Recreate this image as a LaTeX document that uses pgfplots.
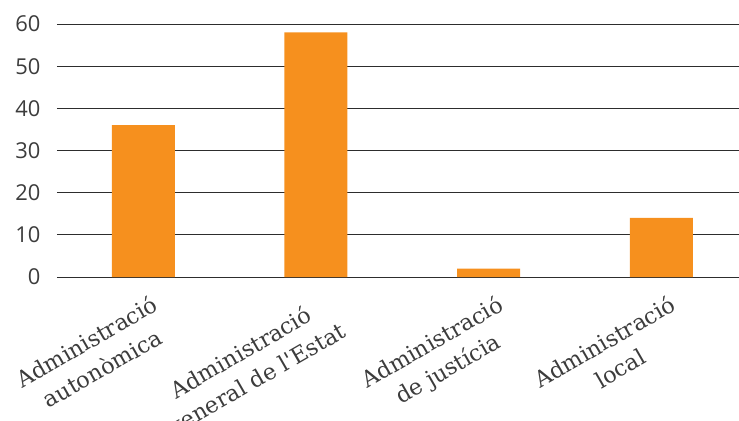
\documentclass[border=0pt]{standalone}
\usepackage{fontspec}
\setmainfont{DejaVu Serif}
\newfontfamily\ticksfont{Open Sans}
\usepackage{pgfplots}
\pgfplotsset{compat=1.18}
\definecolor{barorange}{RGB}{246,144,30}
\definecolor{gridgray}{RGB}{45,45,45}
\definecolor{textgray}{RGB}{60,60,60}
\begin{document}
\begin{tikzpicture}
\useasboundingbox (-57bp,-144bp) rectangle (682bp,277bp);
\begin{axis}[
	scale only axis,
	width=682bp,
	height=253bp,
	xmin=-0.5, xmax=3.45,
	ymin=0, ymax=60,
	axis line style={draw=none},
	major tick length=0pt,
	ytick={0,10,...,60},
	ymajorgrids,
	grid style={gridgray, line width=1bp},
	xtick={0,1,2,3},
	xticklabels={{Administració\\autonòmica},{Administració\\general de l\textquotesingle Estat},{Administració\\de justícia},{Administració\\local}},
	xticklabel style={rotate=30, anchor=north east, align=center, inner sep=0pt,
		font=\fontsize{22.5}{31}\selectfont, text=textgray, xshift=-2bp, yshift=-18bp},
	yticklabel style={font=\ticksfont\fontsize{22}{22}\selectfont, text=textgray, xshift=-13bp},
	/pgf/number format/assume math mode=true,
	]
	\addplot[ybar, bar width=63bp, fill=barorange, draw=none] coordinates {(0,36) (1,58) (2,2) (3,14)};
\end{axis}
\end{tikzpicture}
\end{document}
